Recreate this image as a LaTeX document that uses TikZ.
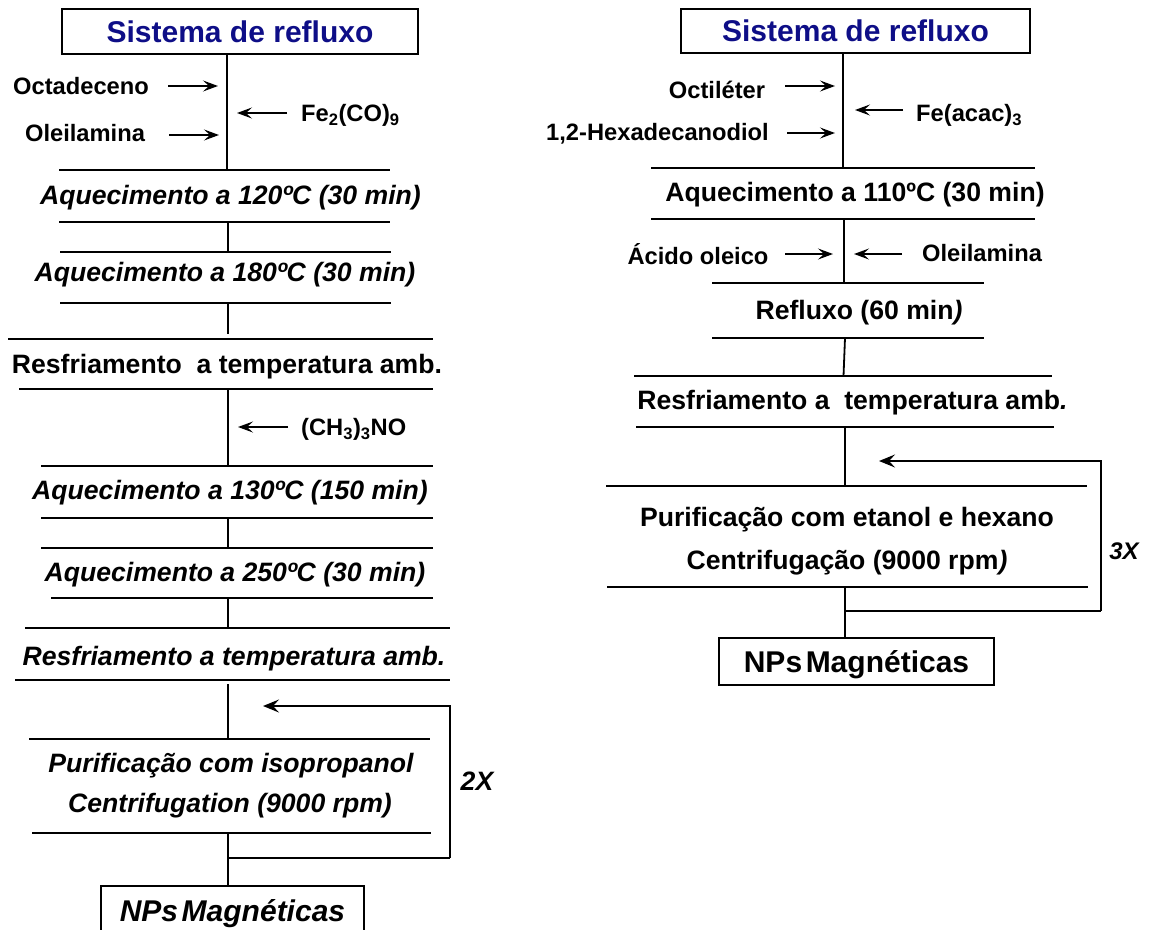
\documentclass[tikz,border=0pt]{standalone}
\usepackage{fontspec}
\setmainfont{Liberation Sans}
\usetikzlibrary{arrows.meta}
\definecolor{titleblue}{RGB}{14,14,135}
\tikzset{
  rule/.style={line width=2pt},
  link/.style={line width=1.8pt},
  feedtip/.tip={Stealth[length=16pt,width=13pt,inset=6pt]},
  addtip/.tip={Stealth[length=15pt,width=11pt,inset=6pt]},
  feed/.style={line width=1.6pt, -feedtip},
  feedline/.style={line width=1.6pt},
  addin/.style={line width=1.5pt, -addtip},
  boxnode/.style={draw, line width=2pt, inner sep=0pt, text height=21.6pt, text depth=0pt},
  titletext/.style={boxnode, text=titleblue, font=\fontsize{30}{36}\selectfont\bfseries},
  endtext/.style={boxnode, font=\fontsize{30}{36}\selectfont\bfseries},
  reagent/.style={inner sep=0pt, text height=17pt, text depth=0pt, font=\fontsize{23.7}{28}\selectfont\bfseries},
  stepit/.style={inner sep=0pt, text height=19pt, text depth=0pt, font=\fontsize{26.6}{32}\selectfont\bfseries\itshape},
  stepup/.style={inner sep=0pt, text height=19pt, text depth=0pt, font=\fontsize{26.6}{32}\selectfont\bfseries},
}
\begin{document}
\begin{tikzpicture}[x=1pt,y=-1pt]
\useasboundingbox (0,0) rectangle (1150,929);

% ---------------- left route: Fe2(CO)9 ----------------
\node[titletext, minimum width=356pt, minimum height=45pt] (Ltitle) at (240,31.5) {Sistema de refluxo};
\coordinate (La) at (227,170);
\draw[link] (Ltitle.south -| La) -- (La);
\node[reagent] (Locta) at (81,86) {Octadeceno};
\node[reagent] (Lolei) at (85,133) {Oleilamina};
\node[reagent, anchor=west] (Lfe) at (301,113) {Fe\textsubscript{2}(CO)\textsubscript{9}};
\draw[addin] (168,86) -- (218,86);
\draw[addin] (169,135) -- (219,135);
\draw[addin] (287,113) -- (237,113);
\draw[rule] (59,170) -- (390,170);
\node[stepit] (Ls1) at (230.5,195) {Aquecimento a 120ºC (30 min)};
\draw[rule] (59,222) -- (390,222);
\draw[link] (228,222) -- (228,252);
\draw[rule] (60,252) -- (391,252);
\node[stepit] (Ls2) at (225,272) {Aquecimento a 180ºC (30 min)};
\draw[rule] (60,303) -- (391,303);
\draw[link] (228,303) -- (228,334);
\draw[rule] (8,339) -- (433,339);
\node[stepup] (Ls3) at (227,364) {Resfriamento\ \ a temperatura amb.};
\draw[rule] (19,389) -- (433,389);
\draw[link] (228,389) -- (228,466);
\node[reagent, anchor=west] (Ltmao) at (301,427) {(CH\textsubscript{3})\textsubscript{3}NO};
\draw[addin] (288,427) -- (238,427);
\draw[rule] (41,466) -- (433,466);
\node[stepit] (Ls4) at (230,490) {Aquecimento a 130ºC (150 min)};
\draw[rule] (41,518) -- (433,518);
\draw[link] (228,518) -- (228,548);
\draw[rule] (41,548) -- (433,548);
\node[stepit] (Ls5) at (235,572) {Aquecimento a 250ºC (30 min)};
\draw[rule] (51,598) -- (433,598);
\draw[link] (228,598) -- (228,628);
\draw[rule] (25,628) -- (450,628);
\node[stepit] (Ls6) at (234,656) {Resfriamento a temperatura amb.};
\draw[rule] (15,680) -- (450,680);
\draw[link] (228,684) -- (228,739);
\draw[rule] (29,739) -- (430,739);
\node[stepit] (Ls7) at (231,763) {Purificação com isopropanol};
\node[stepit] (Ls8) at (230,803) {Centrifugation (9000 rpm)};
\draw[rule] (32,833) -- (431,833);
\node[endtext, minimum width=263pt, minimum height=50pt, anchor=north] (Lend) at (232.5,885) {\itshape NPs\hspace{0.12em}Magnéticas};
\coordinate (Lb) at (228,833);
\draw[link] (Lb) -- (Lend.north -| Lb);
\coordinate (Lloopa) at (228,858);
\coordinate (Lloopb) at (450,858);
\coordinate (Lloopc) at (450,706);
\coordinate (Lloopd) at (263,706);
\draw[feedline] (Lloopa) -- (Lloopb);
\draw[feed] (Lloopb) -- (Lloopc) -- (Lloopd);
\node[stepit] (Lrep) at (477,781) {2X};

% ---------------- right route: Fe(acac)3 ----------------
\node[titletext, minimum width=349pt, minimum height=44pt] (Rtitle) at (855.5,31) {Sistema de refluxo};
\coordinate (Ra) at (843,168);
\draw[link] (Rtitle.south -| Ra) -- (Ra);
\node[reagent] (Rocti) at (717,90) {Octiléter};
\node[reagent] (Rhexa) at (657.5,132) {1,2-Hexadecanodiol};
\node[reagent, anchor=west] (Rfe) at (916,113) {Fe(acac)\textsubscript{3}};
\draw[addin] (785,86) -- (835,86);
\draw[addin] (787,133) -- (835,133);
\draw[addin] (903,110) -- (855,110);
\draw[rule] (651,168) -- (1035,168);
\node[stepup] (Rs1) at (855,192) {Aquecimento a 110ºC (30 min)};
\draw[rule] (651,219) -- (1035,219);
\draw[link] (844,219) -- (844,283);
\node[reagent] (Racid) at (698,256) {Ácido oleico};
\node[reagent] (Rolei) at (982,253) {Oleilamina};
\draw[addin] (785,254) -- (833,254);
\draw[addin] (902,254) -- (854,254);
\draw[rule] (712,283) -- (984,283);
\node[stepup] (Rs2) at (859,310) {Refluxo (60 min\textit{)}};
\draw[rule] (712,338) -- (984,338);
\draw[link] (845,338) -- (843.5,376);
\draw[rule] (634,376) -- (1052,376);
\node[stepup] (Rs3) at (852.5,400) {Resfriamento a\ \ temperatura amb\textit{.}};
\draw[rule] (636,427) -- (1054,427);
\draw[link] (845,427) -- (845,486);
\draw[rule] (606,486) -- (1087,486);
\node[stepup] (Rs4) at (847,517) {Purificação com etanol e hexano};
\node[stepup] (Rs5) at (847,560) {Centrifugação (9000 rpm\textit{)}};
\draw[rule] (607,587) -- (1088,587);
\node[endtext, minimum width=275pt, minimum height=47pt, anchor=north] (Rend) at (856.5,637) {NPs\hspace{0.12em}Magnéticas};
\coordinate (Rb) at (845,587);
\draw[link] (Rb) -- (Rend.north -| Rb);
\coordinate (Rloopa) at (845,611);
\coordinate (Rloopb) at (1101,611);
\coordinate (Rloopc) at (1101,461);
\coordinate (Rloopd) at (879,461);
\draw[feedline] (Rloopa) -- (Rloopb);
\draw[feed] (Rloopb) -- (Rloopc) -- (Rloopd);
\node[stepit, font=\fontsize{24}{28}\selectfont\bfseries\itshape] (Rrep) at (1124,550) {3X};
\end{tikzpicture}
\end{document}
